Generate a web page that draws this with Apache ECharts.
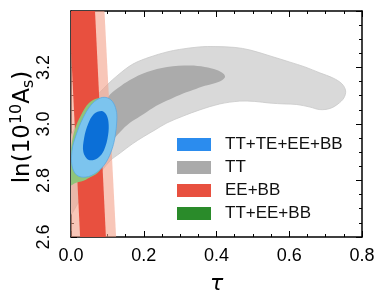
<!DOCTYPE html>
<html>
<head>
<meta charset="utf-8">
<script src="https://cdn.jsdelivr.net/npm/echarts@6/dist/echarts.min.js"></script>
<style>html,body{margin:0;padding:0;background:#fff;}#c{width:386px;height:301px;}</style>
</head>
<body>
<div id="c"></div>
<script>
// ---- data (tau, ln(10^10 A_s)) ----
const xTicks = [0.0, 0.2, 0.4, 0.6, 0.8];
const yTicks = [2.6, 2.8, 3.0, 3.2];
const seriesNames = ['TT+TE+EE+BB', 'TT', 'EE+BB', 'TT+EE+BB'];

const grayOuter = [[-0.003,2.681],[0.025,2.731],[0.066,2.802],[0.107,2.869],[0.135,2.897],[0.168,2.929],[0.198,2.954],[0.231,2.979],[0.264,3.004],[0.308,3.028],[0.354,3.050],[0.409,3.071],[0.464,3.081],[0.505,3.080],[0.547,3.074],[0.588,3.071],[0.621,3.069],[0.657,3.060],[0.684,3.051],[0.712,3.055],[0.734,3.071],[0.750,3.092],[0.755,3.117],[0.745,3.142],[0.720,3.163],[0.684,3.181],[0.643,3.202],[0.602,3.219],[0.547,3.241],[0.492,3.262],[0.451,3.271],[0.396,3.274],[0.354,3.273],[0.299,3.264],[0.264,3.255],[0.217,3.237],[0.170,3.212],[0.129,3.173],[0.099,3.138],[0.066,3.092],[0.030,3.021],[-0.003,2.943]];
const grayInner = [[0.102,3.096],[0.129,3.127],[0.162,3.156],[0.209,3.184],[0.264,3.202],[0.327,3.207],[0.368,3.202],[0.401,3.191],[0.420,3.177],[0.423,3.165],[0.407,3.150],[0.368,3.135],[0.335,3.120],[0.299,3.103],[0.264,3.083],[0.225,3.057],[0.190,3.027],[0.162,3.004],[0.135,2.972],[0.107,2.933],[0.080,2.908],[0.058,2.943],[0.069,3.021]];
const redOuter = [[-0.03,3.4],[0.092,3.4],[0.124,2.6],[0.0,2.6]];
const redInner = [[-0.005,3.4],[0.066,3.4],[0.096,2.6],[0.025,2.6]];
const greenOuter = [[0.080,3.092],[0.050,3.075],[0.027,3.030],[0.010,2.979],[0.000,2.915],[-0.004,2.844],[-0.005,2.782],[0.014,2.792],[0.041,2.803],[0.080,2.837],[0.113,2.943],[0.107,3.067]];
const greenInner = [[0.060,3.020],[0.040,2.980],[0.028,2.930],[0.030,2.880],[0.050,2.870],[0.080,2.900],[0.090,2.980]];
const blueOuter = [[0.096,3.094],[0.113,3.081],[0.124,3.050],[0.126,3.014],[0.121,2.954],[0.110,2.901],[0.093,2.858],[0.069,2.827],[0.041,2.812],[0.016,2.819],[0.003,2.851],[0.003,2.908],[0.014,2.961],[0.033,3.021],[0.055,3.067],[0.077,3.090]];
const blueInner = [[0.084,3.046],[0.096,3.035],[0.103,3.007],[0.102,2.961],[0.091,2.908],[0.074,2.880],[0.049,2.873],[0.034,2.901],[0.036,2.950],[0.047,3.000],[0.063,3.035]];

const FONT = 'Liberation Sans';

function contourSeries(name, legendColor, levels, z) {
  return {
    type: 'custom', name: name, z: z, clip: true, silent: true,
    coordinateSystem: 'cartesian2d',
    itemStyle: { color: legendColor },
    data: levels.map((l, i) => [i]),
    renderItem: function (params, api) {
      const lv = levels[params.dataIndex];
      const pts = lv.poly.map(p => api.coord(p));
      return {
        type: 'polygon',
        shape: { points: pts, smooth: lv.smooth },
        style: { fill: lv.fill, stroke: lv.stroke || null, lineWidth: lv.stroke ? 0.8 : 0 }
      };
    }
  };
}

const chart = echarts.init(document.getElementById('c'), null, { renderer: 'canvas' });

const axisCommon = {
  type: 'value',
  splitLine: { show: false },
  axisLine: { show: true, onZero: false, lineStyle: { color: '#000', width: 1.5 } },
  axisTick: { show: true, inside: true, length: 6, lineStyle: { color: '#000', width: 1 } },
  minorTick: { show: true, splitNumber: 4, length: 3, lineStyle: { color: '#000', width: 1 } },
  minorSplitLine: { show: false }
};

chart.setOption({
  animation: false,
  backgroundColor: '#fff',
  grid: { left: 71, right: 24, top: 11, bottom: 64 },
  graphic: [{
    type: 'text', x: 23, y: 127, rotation: Math.PI / 2, z: 10,
    style: {
      text: '{a|ln(10}{b|10}{a|A}{c|s}{a|)}',
      align: 'center', verticalAlign: 'middle',
      fontFamily: 'DejaVu Sans', fontSize: 23, fill: '#000',
      rich: {
        a: { fontFamily: 'DejaVu Sans', fontSize: 23, lineHeight: 28, verticalAlign: 'middle' },
        b: { fontFamily: 'DejaVu Sans', fontSize: 16, lineHeight: 16, verticalAlign: 'top' },
        c: { fontFamily: 'DejaVu Sans', fontSize: 16, lineHeight: 16, verticalAlign: 'bottom' }
      }
    }
  }],
  legend: {
    data: seriesNames,
    orient: 'vertical',
    left: 172, top: 131,
    itemWidth: 34, itemHeight: 13, itemGap: 6,
    icon: 'rect',
    selectedMode: false,
    textStyle: { fontFamily: FONT, fontSize: 17, color: '#111', padding: [0, 0, 0, 9], lineHeight: 17 }
  },
  xAxis: [
    Object.assign({}, axisCommon, {
      position: 'bottom', min: 0, max: 0.8, interval: 0.2,
      name: 'τ', nameLocation: 'middle', nameGap: 36,
      nameTextStyle: { fontFamily: 'DejaVu Sans', fontStyle: 'italic', fontSize: 22, color: '#000' },
      axisLabel: { fontFamily: FONT, fontSize: 18, color: '#000', margin: 10,
        formatter: v => (xTicks.some(t => Math.abs(t - v) < 1e-9) ? v.toFixed(1) : '') }
    }),
    Object.assign({}, axisCommon, {
      position: 'top', min: 0, max: 0.8, interval: 0.2, axisLabel: { show: false }
    })
  ],
  yAxis: [
    Object.assign({}, axisCommon, {
      position: 'left', min: 2.6, max: 3.4, interval: 0.2,
      axisLabel: { fontFamily: FONT, fontSize: 18, color: '#000', margin: 18, rotate: 90,
        align: 'center', verticalAlign: 'bottom',
        formatter: v => (yTicks.some(t => Math.abs(t - v) < 1e-9) ? v.toFixed(1) : '') }
    }),
    Object.assign({}, axisCommon, {
      position: 'right', min: 2.6, max: 3.4, interval: 0.2, axisLabel: { show: false }
    })
  ],
  series: [
    contourSeries('TT', '#aaaaaa', [
      { poly: grayOuter, fill: '#d9d9d9', stroke: '#c9c9c9', smooth: 0.35 },
      { poly: grayInner, fill: '#ababab', smooth: 0.35 }
    ], 1),
    contourSeries('EE+BB', '#e8503f', [
      { poly: redOuter, fill: 'rgba(243,160,137,0.6)', smooth: 0 },
      { poly: redInner, fill: '#e8503f', smooth: 0 }
    ], 2),
    contourSeries('TT+EE+BB', '#2a8b2a', [
      { poly: greenOuter, fill: '#8fc47a', smooth: 0.35 },
      { poly: greenInner, fill: '#3d9a3d', smooth: 0.35 }
    ], 3),
    contourSeries('TT+TE+EE+BB', '#2b8cee', [
      { poly: blueOuter, fill: '#7cc4ee', stroke: '#5aa8e2', smooth: 0.35 },
      { poly: blueInner, fill: '#0b6fd7', smooth: 0.35 }
    ], 4)
  ]
});
</script>
</body>
</html>
